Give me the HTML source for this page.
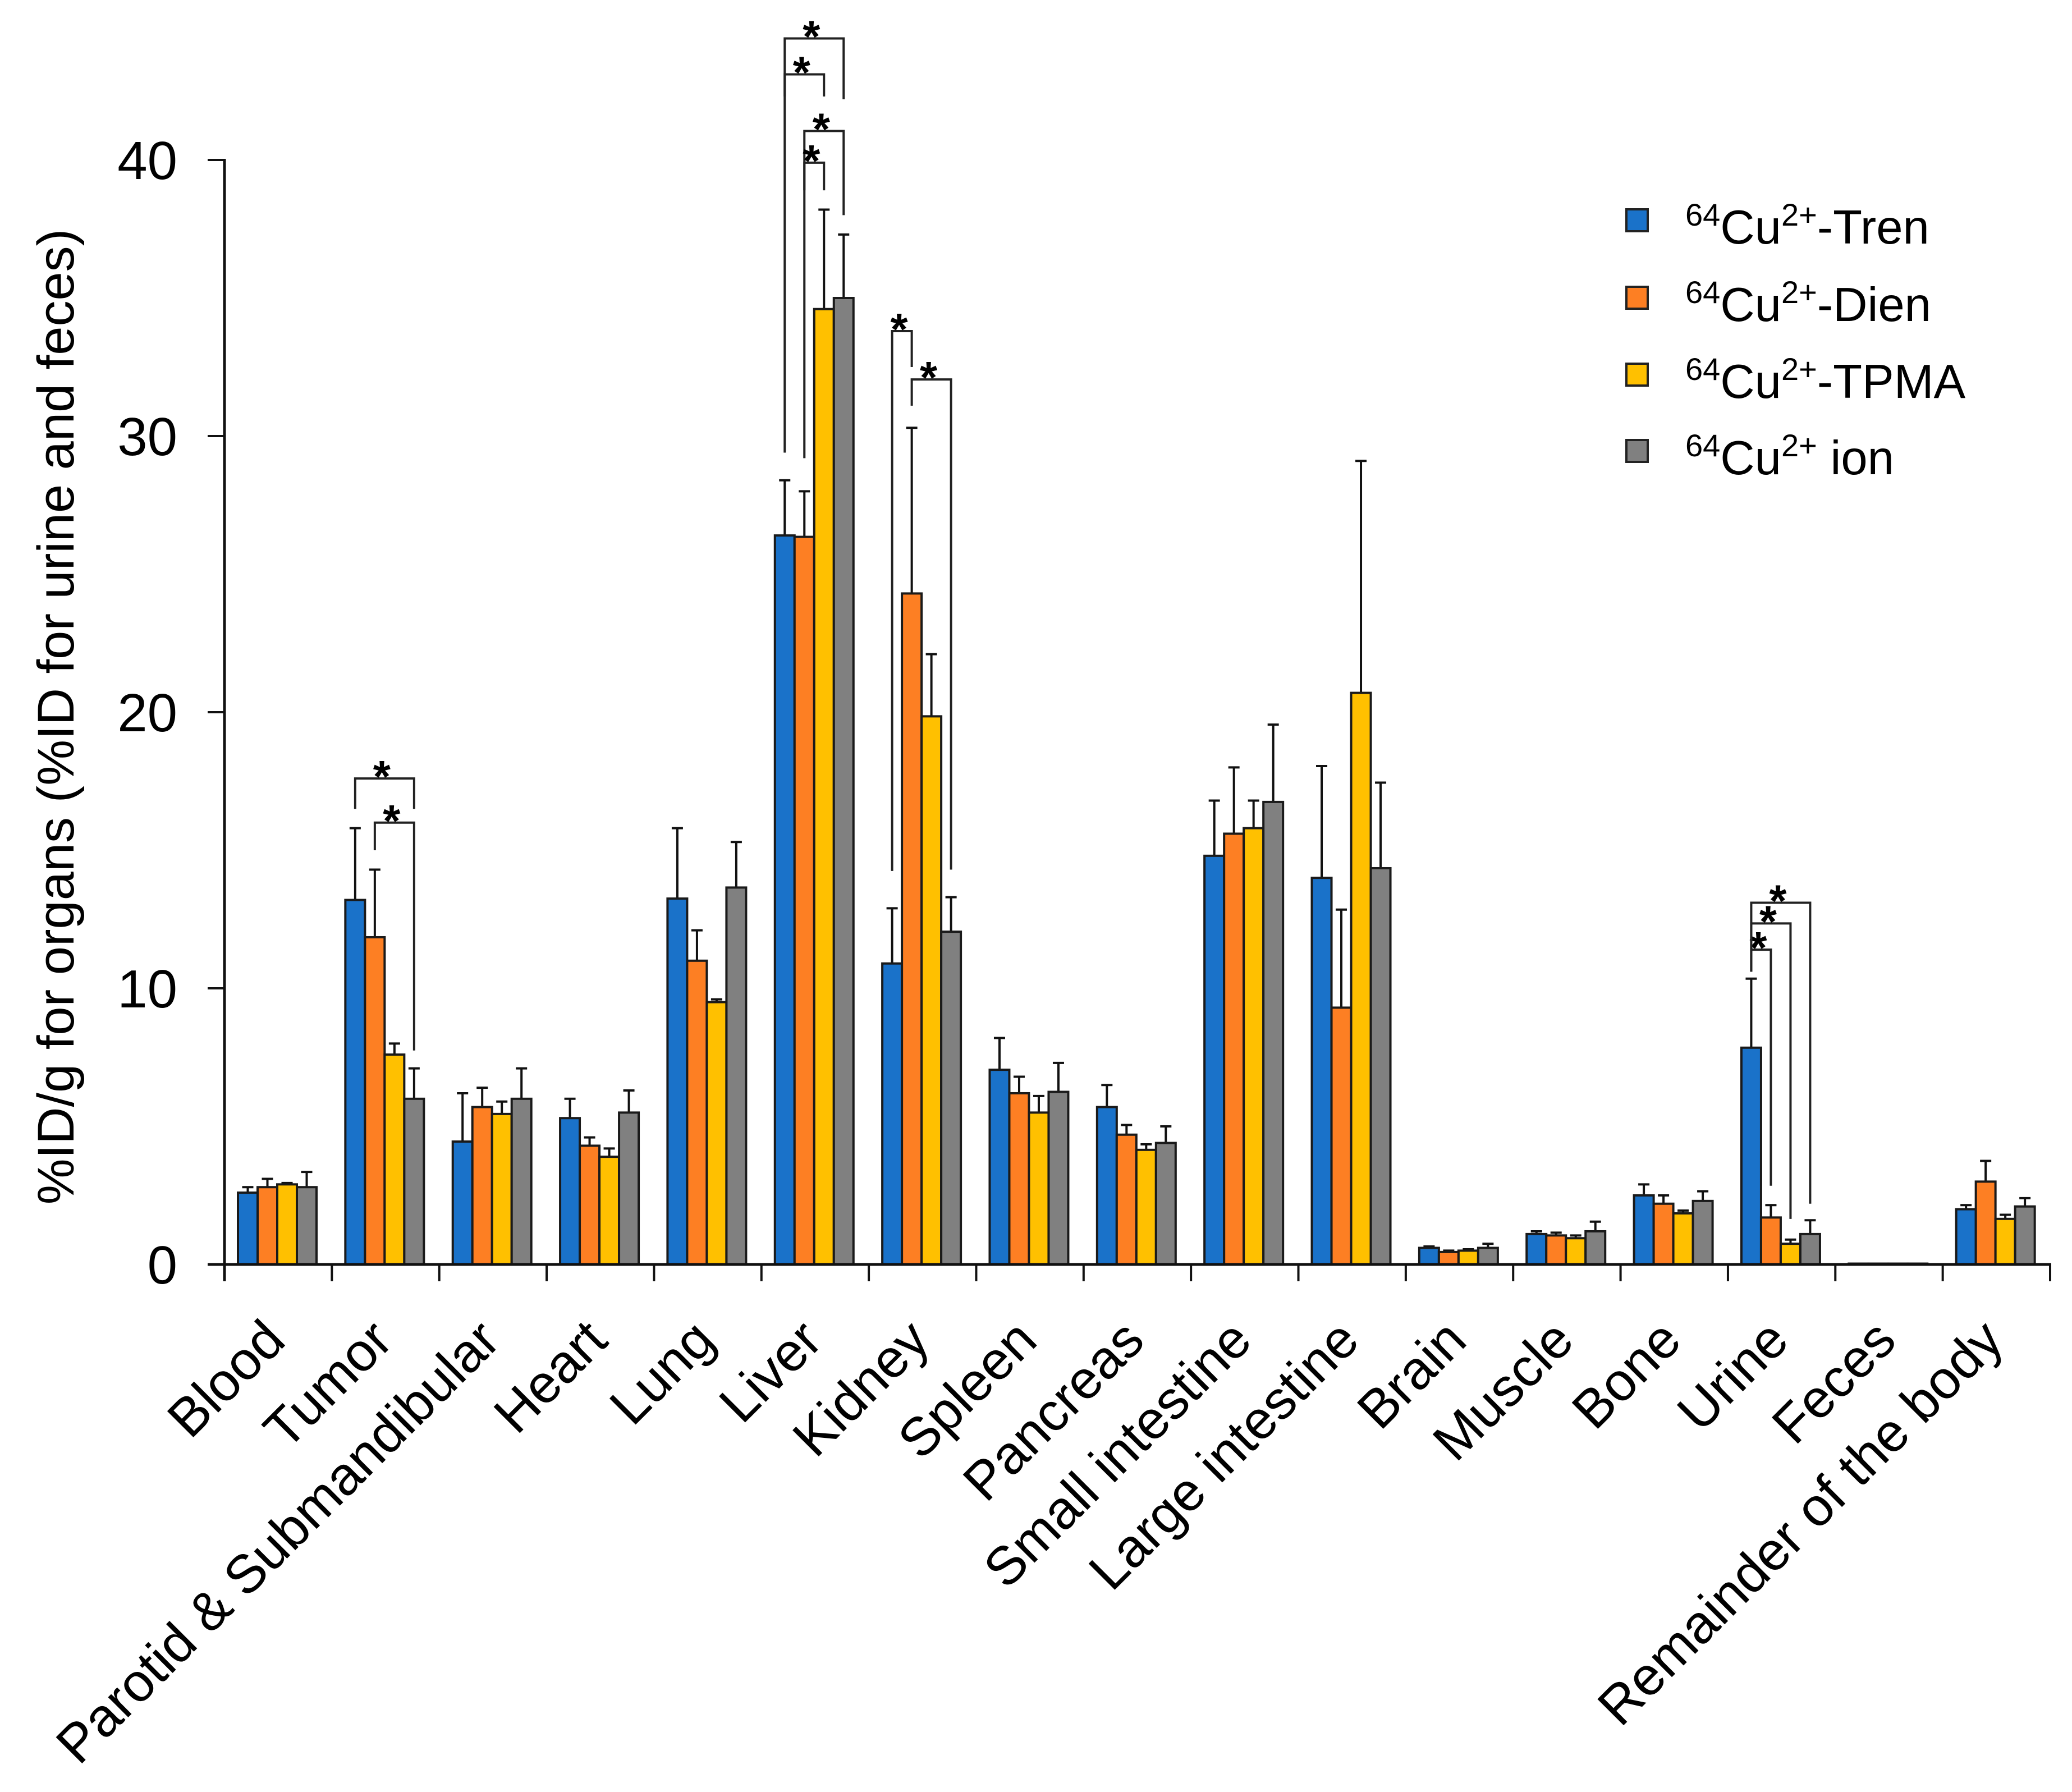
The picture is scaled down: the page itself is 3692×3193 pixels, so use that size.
<!DOCTYPE html>
<html><head><meta charset="utf-8"><style>
html,body{margin:0;padding:0;background:#fff;}
svg{display:block;font-family:"Liberation Sans",Arial,sans-serif;}
</style></head><body>
<svg id="chart" width="3692" height="3193" viewBox="0 0 3692 3193" xmlns="http://www.w3.org/2000/svg">
<rect width="3692" height="3193" fill="#fff"/>
<g id="bars"></g>
<g id="brackets"></g>
<g id="axes"></g>
<text transform="translate(100,1277) rotate(-90)" text-anchor="middle" dominant-baseline="central" font-size="92">%ID/g for organs (%ID for urine and feces)</text>
<g font-size="85">
 <g><rect x="2898" y="373" width="38" height="39" fill="#1a72c9" stroke="#222" stroke-width="4"/><text x="3003" y="434"><tspan font-size="56" dy="-32">64</tspan><tspan dy="32">Cu</tspan><tspan font-size="56" dy="-32">2+</tspan><tspan dy="32">-Tren</tspan></text></g>
 <g><rect x="2898" y="511" width="38" height="39" fill="#fd7f23" stroke="#222" stroke-width="4"/><text x="3003" y="572"><tspan font-size="56" dy="-32">64</tspan><tspan dy="32">Cu</tspan><tspan font-size="56" dy="-32">2+</tspan><tspan dy="32">-Dien</tspan></text></g>
 <g><rect x="2898" y="648" width="38" height="39" fill="#ffc000" stroke="#222" stroke-width="4"/><text x="3003" y="709"><tspan font-size="56" dy="-32">64</tspan><tspan dy="32">Cu</tspan><tspan font-size="56" dy="-32">2+</tspan><tspan dy="32">-TPMA</tspan></text></g>
 <g><rect x="2898" y="784" width="38" height="39" fill="#808080" stroke="#222" stroke-width="4"/><text x="3003" y="845"><tspan font-size="56" dy="-32">64</tspan><tspan dy="32">Cu</tspan><tspan font-size="56" dy="-32">2+</tspan><tspan dy="32"> ion</tspan></text></g>
</g>
</svg>
<script>
const categories = ["Blood","Tumor","Parotid & Submandibular","Heart","Lung","Liver","Kidney","Spleen","Pancreas","Small intestine","Large intestine","Brain","Muscle","Bone","Urine","Feces","Remainder of the body"];
const seriesNames = ["tren","dien","tpma","ion"];
const seriesColors = ["#1a72c9","#fd7f23","#ffc000","#808080"];
const tren = [2.6,13.2,4.45,5.3,13.25,26.4,10.9,7.05,5.7,14.8,14.0,0.6,1.1,2.5,7.85,0.03,2.0];
const trenErr = [2.8,15.8,6.2,6.0,15.8,28.4,12.9,8.2,6.5,16.8,18.05,0.65,1.2,2.9,10.35,0.03,2.15];
const dien = [2.8,11.85,5.7,4.3,11.0,26.35,24.3,6.2,4.7,15.6,9.3,0.45,1.05,2.2,1.7,0.03,3.0];
const dienErr = [3.1,14.3,6.4,4.6,12.1,28.0,30.3,6.8,5.05,18.0,12.85,0.5,1.15,2.5,2.15,0.03,3.75];
const tpma = [2.9,7.6,5.45,3.9,9.5,34.6,19.85,5.5,4.15,15.8,20.7,0.5,0.95,1.85,0.75,0.03,1.65];
const tpmaErr = [2.95,8.0,5.9,4.2,9.6,38.2,22.1,6.1,4.35,16.8,29.1,0.55,1.05,1.95,0.9,0.03,1.8];
const ion = [2.8,6.0,6.0,5.5,13.65,35.0,12.05,6.25,4.4,16.75,14.35,0.6,1.2,2.3,1.1,0.03,2.1];
const ionErr = [3.35,7.1,7.1,6.3,15.3,37.3,13.3,7.3,5.0,19.55,17.45,0.75,1.55,2.65,1.6,0.03,2.4];
const yTicks = [0,10,20,30,40];
// brackets: group, barA, barB, top value, left-leg bottom, right-leg bottom
const bracketGroup = [1,1,5,5,5,5,6,6,14,14,14];
const bracketA = [0,1,0,0,1,1,0,1,0,0,0];
const bracketB = [3,3,3,2,3,2,1,3,1,2,3];
const bracketTop = [17.6,16.0,44.4,43.1,41.05,39.9,33.8,32.05,11.4,12.35,13.1];
const bracketLeftEnd = [16.5,15.0,29.4,42.3,29.2,38.9,14.25,31.1,10.6,10.6,10.6];
const bracketRightEnd = [16.5,7.75,42.2,42.3,38.0,38.9,32.5,14.3,2.85,1.65,2.2];

const NS="http://www.w3.org/2000/svg";
const X0=400, X1=3653, Y0=2253, PX=49.2;
const GW=(X1-X0)/categories.length, BW=35, BOFF=24;
const yS=v=>Y0-v*PX;
const barX=(g,s)=>X0+g*GW+BOFF+s*BW;
const barC=(g,s)=>barX(g,s)+BW/2;
function mk(tag,attrs,parent){const e=document.createElementNS(NS,tag);for(const k in attrs)e.setAttribute(k,attrs[k]);parent.appendChild(e);return e;}
const vals=[tren,dien,tpma,ion], errs=[trenErr,dienErr,tpmaErr,ionErr];
const gb=document.getElementById('bars');
categories.forEach((c,g)=>{
 for(let s=0;s<4;s++){
  const v=vals[s][g], e=errs[s][g];
  if(e>v+0.02){
   const l=mk('line',{x1:barC(g,s),x2:barC(g,s),y1:yS(v),y2:yS(e),stroke:'#111','stroke-width':4},gb);
   
   
   const cap=mk('line',{x1:barC(g,s)-10,x2:barC(g,s)+10,y1:yS(e),y2:yS(e),stroke:'#111','stroke-width':4},gb);
   
   
  }
  const r=mk('rect',{x:barX(g,s),y:yS(v),width:BW,height:Math.max(v*PX,1),fill:seriesColors[s],stroke:'#1a1a1a','stroke-width':4},gb);
  
  
 }
});
const gk=document.getElementById('brackets');
bracketGroup.forEach((g,i)=>{
 const xa=barC(g,bracketA[i]), xb=barC(g,bracketB[i]), yt=yS(bracketTop[i]);
 const p=mk('path',{d:`M${xa},${yS(bracketLeftEnd[i])}V${yt}H${xb}V${yS(bracketRightEnd[i])}`,fill:'none',stroke:'#222','stroke-width':4},gk);
 
 
 const t=mk('text',{x:(xa+xb)/2-5,y:yt+24,'text-anchor':'middle','font-size':80,'font-weight':'bold'},gk);
 t.textContent='*';
 
 
});
const ga=document.getElementById('axes');
const ya=mk('line',{x1:X0,x2:X0,y1:yS(40)-2,y2:Y0+30,stroke:'#111','stroke-width':5},ga);


const xa=mk('line',{x1:X0-30,x2:X1+2,y1:Y0,y2:Y0,stroke:'#111','stroke-width':5},ga);


yTicks.forEach(v=>{
 const t=mk('line',{x1:X0-30,x2:X0,y1:yS(v),y2:yS(v),stroke:'#111','stroke-width':4},ga);
 
 
 const l=mk('text',{x:316,y:yS(v)+34,'text-anchor':'end','font-size':96},ga);
 l.textContent=v;
 
 
});
for(let g=0;g<=categories.length;g++){
 const x=X0+g*GW;
 const t=mk('line',{x1:x,x2:x,y1:Y0,y2:Y0+30,stroke:'#111','stroke-width':4},ga);
 
 
}
categories.forEach((c,g)=>{
 const cx=X0+g*GW+GW/2+17, cy=2393;
 const l=mk('text',{x:cx,y:cy,'text-anchor':'end','font-size':96,transform:`rotate(-45 ${cx} ${cy})`},ga);
 l.textContent=c;
 
 
});
</script>
</body></html>
